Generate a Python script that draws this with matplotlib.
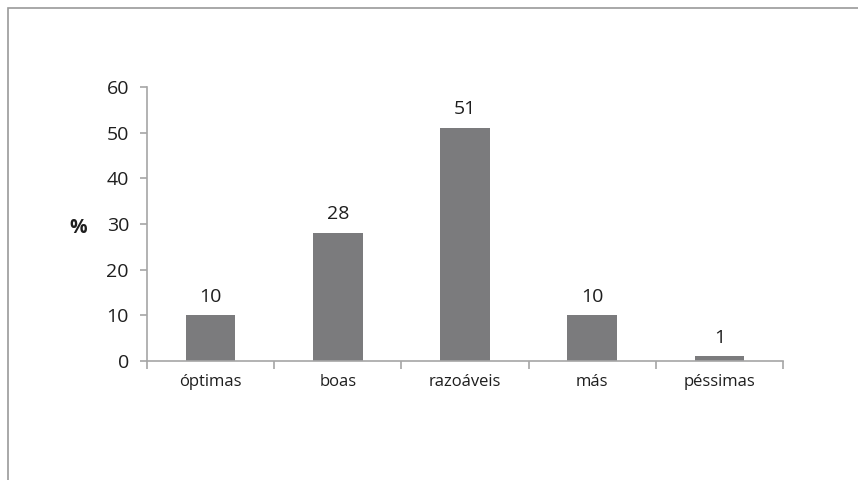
import numpy as np
import matplotlib.pyplot as plt
from matplotlib.patches import Rectangle

plt.rcParams['font.family'] = ['Open Sans', 'DejaVu Sans']

# data
categories = ["óptimas", "boas", "razoáveis", "más", "péssimas"]
values = [10, 28, 51, 10, 1]
yticks = [0, 10, 20, 30, 40, 50, 60]

bar_color = "#7b7b7d"
axis_color = "#a6a6a6"
text_color = "#1e1e1e"

fig = plt.figure(figsize=(8.58, 4.8), dpi=100)

# outer chart border (clipped on the right and bottom)
fig.patches.append(Rectangle((8 / 858, -0.1), 1.1, 1 - 8 / 480 + 0.1,
                             transform=fig.transFigure, fill=False,
                             edgecolor="#9a9a9a", linewidth=1.2))

ax = fig.add_axes([147 / 858, 1 - 361 / 480, (783 - 147) / 858, (361 - 87) / 480])

x = np.arange(len(categories))
ax.bar(x, values, width=0.39, color=bar_color, zorder=2)

for xi, v in zip(x, values):
    ax.annotate(str(v), (xi, v), xytext=(0, 7), textcoords="offset points",
                ha="center", va="bottom", fontsize=14, color=text_color)

ax.set_xlim(-0.5, len(categories) - 0.5)
ax.set_ylim(0, 60)
ax.set_yticks(yticks)
ax.set_yticklabels([str(t) for t in yticks], fontsize=14, color=text_color)

# category labels centred, tick marks on the boundaries
ax.set_xticks(x)
ax.set_xticklabels(categories, fontsize=12, color=text_color)
ax.tick_params(axis="x", length=0, pad=9)
ax.set_xticks(np.arange(-0.5, len(categories)), minor=True)
ax.tick_params(axis="x", which="minor", length=6, color=axis_color, width=1.2)
ax.tick_params(axis="y", length=5, color=axis_color, width=1.2, pad=8)

for side in ["top", "right"]:
    ax.spines[side].set_visible(False)
for side in ["left", "bottom"]:
    ax.spines[side].set_color(axis_color)
    ax.spines[side].set_linewidth(1.2)

ax.set_ylabel("%", rotation=0, fontsize=14, fontweight="bold",
              color=text_color, ha="center", va="center")
ax.yaxis.set_label_coords(-0.108, 0.485)

fig.savefig("out.png", dpi=100)
